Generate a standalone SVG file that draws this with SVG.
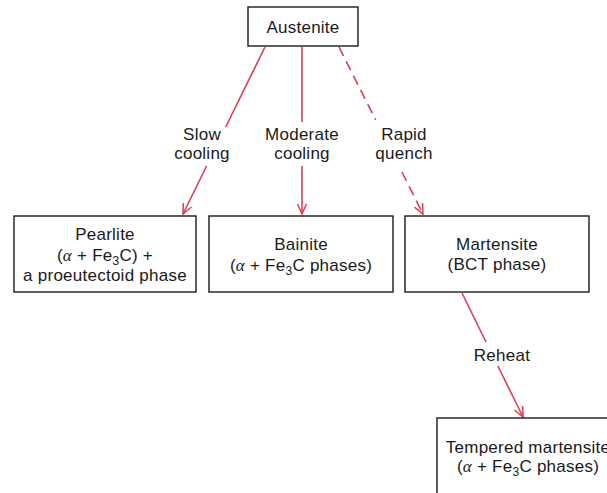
<svg xmlns="http://www.w3.org/2000/svg" width="607" height="493" viewBox="0 0 607 493">
<style>
.box{fill:#fff;stroke:#1a1a1a;stroke-width:1.4}
.t{font-family:"Liberation Sans",Arial,sans-serif;font-size:17px;fill:#1a1a1a;text-anchor:middle;letter-spacing:0.25px}
.al{font-family:"Liberation Serif","Times New Roman",serif;font-style:italic}
.sub{font-size:12px}
.ln{stroke:#d94057;stroke-width:1.6;fill:none}
.dash{stroke-dasharray:10 6}
</style>
<defs>
<marker id="ah" markerUnits="userSpaceOnUse" markerWidth="12" markerHeight="12" viewBox="0 0 12 12" refX="11" refY="6" orient="auto">
<path d="M1,1.5 L11,6 L1,10.5" fill="none" stroke="#d94057" stroke-width="1.5"/>
</marker>
</defs>
<g id="connectors">
<line class="ln" x1="265" y1="47" x2="225.7" y2="127"/>
<line class="ln" x1="206.6" y1="166" x2="183" y2="214" marker-end="url(#ah)"/>
<line class="ln" x1="302" y1="47" x2="302" y2="122"/>
<line class="ln" x1="302" y1="166" x2="302" y2="214" marker-end="url(#ah)"/>
<line class="ln dash" x1="339" y1="47" x2="375.7" y2="120"/>
<line class="ln dash" x1="401.9" y1="172" x2="423" y2="214" marker-end="url(#ah)"/>
<line class="ln" x1="462" y1="293" x2="486" y2="342"/>
<line class="ln" x1="497.9" y1="366" x2="523" y2="417" marker-end="url(#ah)"/>
<text class="t" x="202" y="140">Slow</text>
<text class="t" x="202" y="159">cooling</text>
<text class="t" x="302" y="140">Moderate</text>
<text class="t" x="302" y="159">cooling</text>
<text class="t" x="404" y="140">Rapid</text>
<text class="t" x="404" y="159">quench</text>
<text class="t" x="502" y="361">Reheat</text>
</g>
<g id="austenite">
<rect class="box" x="248" y="7" width="110" height="39"/>
<text class="t" x="303" y="33">Austenite</text>
</g>
<g id="pearlite">
<rect class="box" x="14" y="216" width="182" height="76"/>
<text class="t" x="105" y="240">Pearlite</text>
<text class="t" x="105" y="261">(<tspan class="al">α</tspan> + Fe<tspan class="sub" dy="3.5">3</tspan><tspan dy="-3.5">C) +</tspan></text>
<text class="t" x="105" y="281">a proeutectoid phase</text>
</g>
<g id="bainite">
<rect class="box" x="209" y="216" width="184" height="76"/>
<text class="t" x="301" y="250">Bainite</text>
<text class="t" x="301" y="271">(<tspan class="al">α</tspan> + Fe<tspan class="sub" dy="4">3</tspan><tspan dy="-4">C phases)</tspan></text>
</g>
<g id="martensite">
<rect class="box" x="405" y="216" width="184" height="76"/>
<text class="t" x="497" y="250">Martensite</text>
<text class="t" x="497" y="270">(BCT phase)</text>
</g>
<g id="tempered">
<rect class="box" x="437" y="418" width="184" height="90"/>
<text class="t" x="528" y="453">Tempered martensite</text>
<text class="t" x="528" y="472">(<tspan class="al">α</tspan> + Fe<tspan class="sub" dy="4">3</tspan><tspan dy="-4">C phases)</tspan></text>
</g>
</svg>
